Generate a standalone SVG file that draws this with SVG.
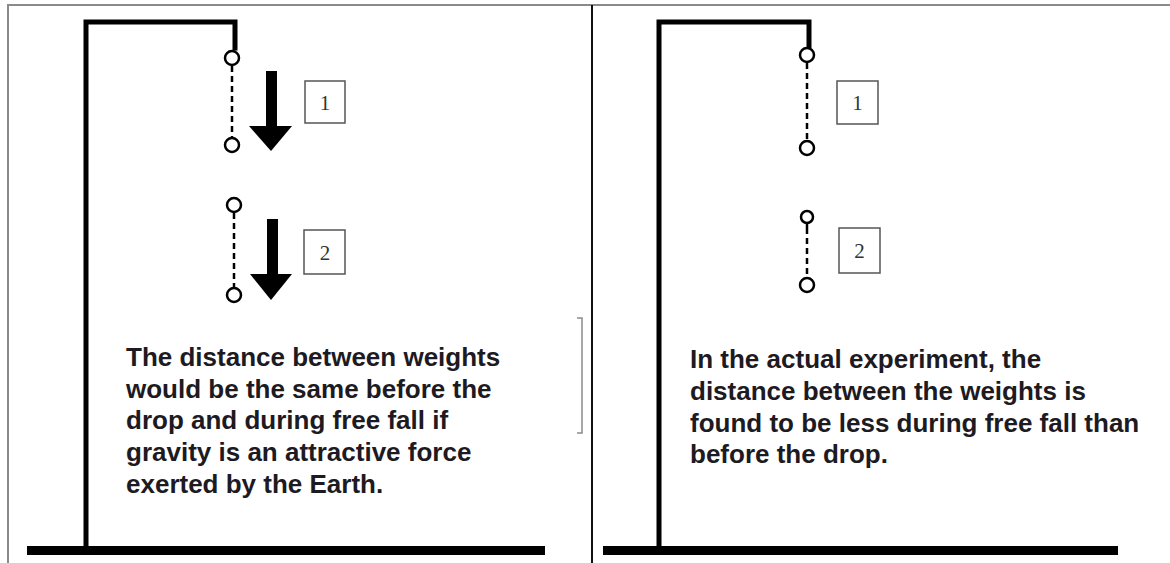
<svg xmlns="http://www.w3.org/2000/svg" width="1170" height="563" viewBox="0 0 1170 563">
<defs>
<style>
.frame{stroke:#8a8a8a;stroke-width:2;fill:none}
.div{stroke:#111;stroke-width:2;fill:none}
.gal{stroke:#000;stroke-width:5;fill:none;stroke-linejoin:miter;stroke-linecap:square}
.ground{fill:#000}
.ring{fill:#fff;stroke:#000;stroke-width:2.5}
.dash{stroke:#000;stroke-width:2.5;stroke-dasharray:6 4;fill:none}
.arrow{fill:#000}
.box{fill:#fff;stroke:#555;stroke-width:1.5}
.num{font-family:"Liberation Serif","DejaVu Serif",serif;font-size:21px;fill:#333;text-anchor:middle}
.txt{font-family:"Liberation Sans",Arial,sans-serif;font-weight:bold;font-size:26px;fill:#1d1a22}
.brk{stroke:#8a8a8a;stroke-width:1.5;fill:none}
</style>
</defs>
<rect width="1170" height="563" fill="#fff"/>
<g id="frame">
<path class="frame" d="M8,563 L8,5 L1170,5"/>
<path class="div" d="M592,5 L592,563"/>
<path class="brk" d="M577,318 L582,318 L582,433 L577,433"/>
</g>
<g id="left-gallows">
<rect class="ground" x="27" y="546" width="518" height="9"/>
<path class="gal" d="M86,548 L86,22 L235,22 L235,48"/>
</g>
<g id="right-gallows">
<rect class="ground" x="603" y="546" width="515" height="9"/>
<path class="gal" d="M659,548 L659,22 L809,22 L809,46"/>
</g>
<g id="connectors">
<line class="dash" x1="232" y1="66" x2="232" y2="138"/>
<line class="dash" x1="234" y1="213" x2="234" y2="288"/>
<line class="dash" x1="807" y1="63" x2="807" y2="141"/>
<line x1="807" y1="223" x2="807" y2="234" stroke="#000" stroke-width="2.5"/>
<line class="dash" x1="807" y1="238" x2="807" y2="278"/>
</g>
<g id="left-weights-1">
<circle class="ring" cx="232" cy="58" r="7"/>
<circle class="ring" cx="232" cy="145" r="7"/>
</g>
<g id="left-arrow-1">
<rect class="arrow" x="266" y="71" width="11" height="56"/>
<polygon class="arrow" points="249,126 292,126 271,151"/>
</g>
<g id="left-label-1">
<rect class="box" x="305" y="81" width="40" height="42"/>
<text class="num" x="325" y="110">1</text>
</g>
<g id="left-weights-2">
<circle class="ring" cx="234" cy="205" r="7"/>
<circle class="ring" cx="234" cy="295" r="7"/>
</g>
<g id="left-arrow-2">
<rect class="arrow" x="267" y="219" width="11" height="56"/>
<polygon class="arrow" points="250,274 292,274 271,300"/>
</g>
<g id="left-label-2">
<rect class="box" x="304" y="230" width="41" height="44"/>
<text class="num" x="325" y="260">2</text>
</g>
<g id="right-weights-1">
<circle class="ring" cx="807" cy="55" r="7"/>
<circle class="ring" cx="807" cy="148" r="7"/>
</g>
<g id="right-label-1">
<rect class="box" x="837" y="81" width="41" height="43"/>
<text class="num" x="857.5" y="110">1</text>
</g>
<g id="right-weights-2">
<circle class="ring" cx="807" cy="217" r="6"/>
<circle class="ring" cx="807" cy="285" r="7"/>
</g>
<g id="right-label-2">
<rect class="box" x="839" y="228" width="41" height="45"/>
<text class="num" x="859.5" y="258">2</text>
</g>
<g id="left-text">
<text class="txt" x="126" y="366">The distance between weights</text>
<text class="txt" x="126" y="398">would be the same before the</text>
<text class="txt" x="126" y="429">drop and during free fall if</text>
<text class="txt" x="126" y="461">gravity is an attractive force</text>
<text class="txt" x="126" y="493">exerted by the Earth.</text>
</g>
<g id="right-text">
<text class="txt" x="690" y="368">In the actual experiment, the</text>
<text class="txt" x="690" y="400">distance between the weights is</text>
<text class="txt" x="690" y="432">found to be less during free fall than</text>
<text class="txt" x="690" y="463">before the drop.</text>
</g>
</svg>
